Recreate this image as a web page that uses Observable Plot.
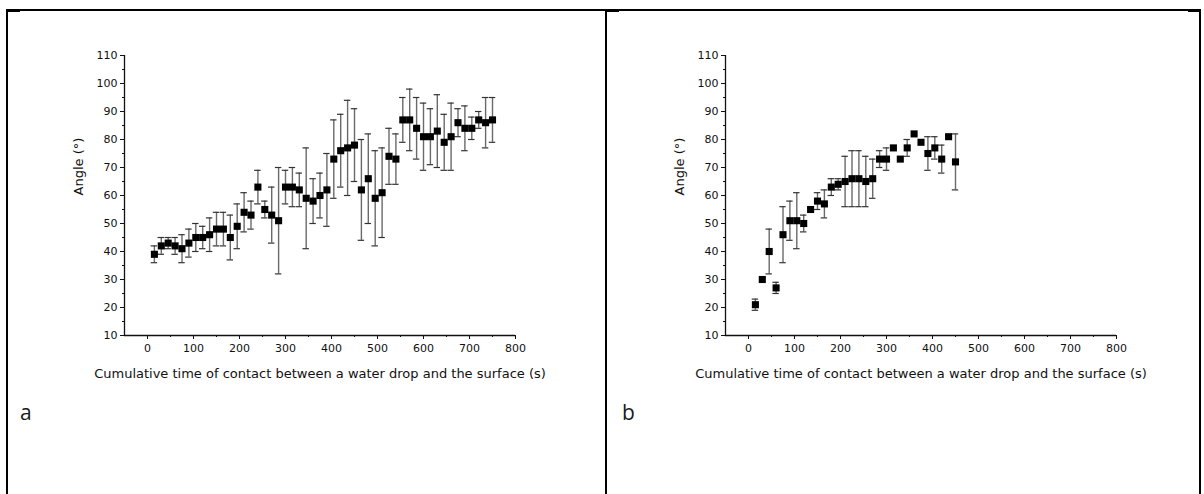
<!DOCTYPE html>
<html>
<head>
<meta charset="utf-8">
<script src="https://cdn.jsdelivr.net/npm/d3@7"></script>
<script src="https://cdn.jsdelivr.net/npm/@observablehq/plot@0.6"></script>
<style>
  html, body { margin: 0; padding: 0; background: #fff; }
  #page { position: relative; width: 1204px; height: 494px; overflow: hidden; background: #fff; }
  .panel { position: absolute; top: 0; }
  .line { position: absolute; background: #000; }
  .tag { position: absolute; font-family: "Open Sans", "Noto Sans", sans-serif; font-weight: 400; font-size: 21px; color: #1a1a1a; }
</style>
</head>
<body>
<div id="page">
  <div class="line" style="left:6px; top:9px; width:1195px; height:1.5px;"></div>
  <div class="line" style="left:6px; top:9px; width:1.5px; height:485px;"></div>
  <div class="line" style="left:605px; top:9px; width:1.5px; height:485px;"></div>
  <div class="line" style="left:1199px; top:9px; width:1.5px; height:485px;"></div>
  <div class="line" style="left:6px; top:9px; width:14px; height:3px;"></div>
  <div class="line" style="left:605px; top:9px; width:14px; height:3px;"></div>
  <div class="line" style="left:1188px; top:9px; width:13px; height:3px;"></div>
  <div class="panel" id="pa" style="left:0px;"></div>
  <div class="panel" id="pb" style="left:601px;"></div>
  <div class="tag" style="left:20px; top:398px;">a</div>
  <div class="tag" style="left:622px; top:398px;">b</div>
</div>
<script>
// Panel a: cumulative contact time (s), mean angle (°), standard deviation (°)
const timeA = [15,30,45,60,75,90,105,120,135,150,165,180,195,210,225,240,255,270,285,300,315,330,345,360,375,390,405,420,435,450,465,480,495,510,525,540,555,570,585,600,615,630,645,660,675,690,705,720,735,750];
const angleA = [39,42,43,42,41,43,45,45,46,48,48,45,49,54,53,63,55,53,51,63,63,62,59,58,60,62,73,76,77,78,62,66,59,61,74,73,87,87,84,81,81,83,79,81,86,84,84,87,86,87];
const sdA = [3,3,2,3,5,5,5,4,6,6,6,8,8,7,5,6,3,10,19,6,7,6,18,8,8,13,14,13,17,13,18,16,17,16,10,9,8,11,11,12,10,13,10,12,5,8,4,3,9,8];

// Panel b
const timeB = [15,30,45,60,75,90,105,120,135,150,165,180,195,210,225,240,255,270,285,300,315,330,345,360,375,390,405,420,435,450];
const angleB = [21,30,40,27,46,51,51,50,55,58,57,63,64,65,66,66,65,66,73,73,77,73,77,82,79,75,77,73,81,72];
const sdB = [2,0,8,2,10,7,10,3,0,3,5,3,2,9,10,10,9,7,3,4,0,0,3,0,0,6,4,5,0,10];

// Axes
const xDomain = [-50, 800];
const yDomain = [10, 110];
const xTicks = [0,100,200,300,400,500,600,700,800];
const xMinor = [50,150,250,350,450,550,650,750];
const yTicks = [10,20,30,40,50,60,70,80,90,100,110];
const yMinor = [15,25,35,45,55,65,75,85,95,105];
const xLabel = "Cumulative time of contact between a water drop and the surface (s)";
const yLabel = "Angle (°)";
const capHalf = 7;

function panel(times, angles, sds) {
  const data = times.map((t, i) => ({t, a: angles[i], sd: sds[i]}));
  const eb = data.filter(d => d.sd > 0);
  return Plot.plot({
    width: 600,
    height: 400,
    marginLeft: 124,
    marginRight: 85,
    marginTop: 55,
    marginBottom: 65,
    style: {fontFamily: "'DejaVu Sans', sans-serif", fontSize: "11px", color: "#111", background: "transparent", overflow: "visible"},
    x: {domain: xDomain},
    y: {domain: yDomain},
    marks: [
      Plot.ruleX([xDomain[0]], {y1: yDomain[0], y2: yDomain[1], stroke: "#111", strokeWidth: 1.3}),
      Plot.ruleY([yDomain[0]], {x1: xDomain[0], x2: xDomain[1], stroke: "#111", strokeWidth: 1.3}),
      Plot.axisY(yTicks, {tickSize: 4, tickPadding: 3, label: null, stroke: "#111"}),
      Plot.axisY(yMinor, {tickSize: 2, tickFormat: () => "", label: null, stroke: "#111"}),
      Plot.axisX(xTicks, {tickSize: 4, tickPadding: 5, label: null, stroke: "#111"}),
      Plot.axisX(xMinor, {tickSize: 2, tickFormat: () => "", label: null, stroke: "#111"}),
      Plot.ruleX(eb, {x: "t", y1: d => d.a - d.sd, y2: d => d.a + d.sd, stroke: "#6a6a6a", strokeWidth: 1.4}),
      Plot.ruleY(eb, {y: d => d.a + d.sd, x1: d => d.t - capHalf, x2: d => d.t + capHalf, stroke: "#333", strokeWidth: 1.2}),
      Plot.ruleY(eb, {y: d => d.a - d.sd, x1: d => d.t - capHalf, x2: d => d.t + capHalf, stroke: "#333", strokeWidth: 1.2}),
      Plot.dot(data, {x: "t", y: "a", symbol: "square", r: 4, fill: "#000"}),
      Plot.text([yLabel], {frameAnchor: "left", rotate: -90, dx: -46, fontSize: 13, fill: "#111"}),
      Plot.text([xLabel], {frameAnchor: "bottom", dy: 42, fontSize: 13, fill: "#111"})
    ]
  });
}

document.getElementById("pa").appendChild(panel(timeA, angleA, sdA));
document.getElementById("pb").appendChild(panel(timeB, angleB, sdB));
</script>
</body>
</html>
